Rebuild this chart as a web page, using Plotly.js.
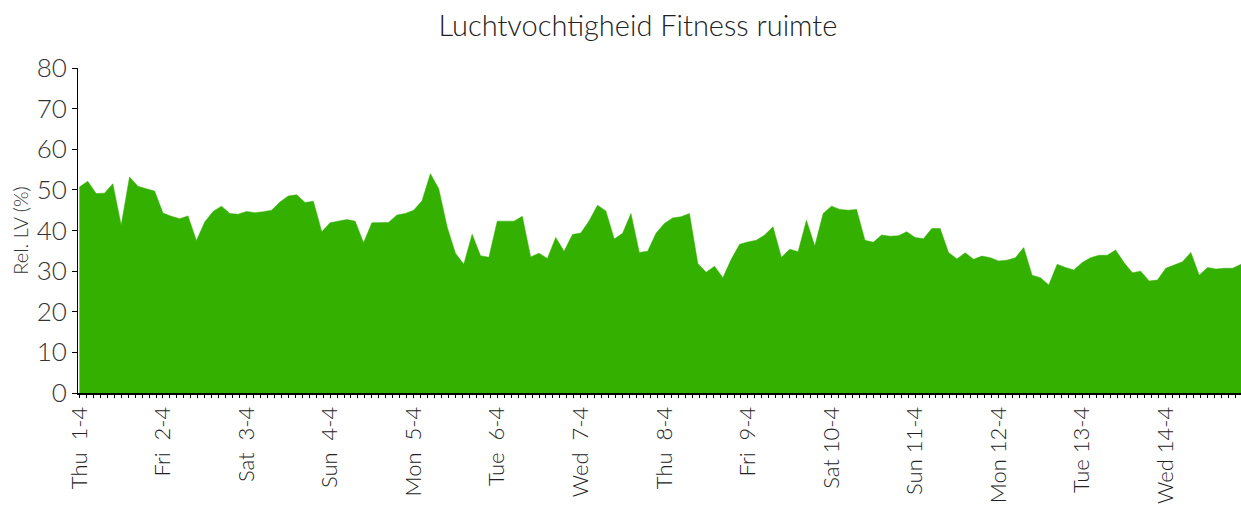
<!DOCTYPE html>
<html>
<head>
<meta charset="utf-8">
<script src="https://cdn.plot.ly/plotly-3.0.1.min.js"></script>
<style>html,body{margin:0;padding:0;background:#fff}#chart{width:1241px;height:512px}</style>
</head>
<body>
<div id="chart"></div>
<script>
// Relative humidity (%) sampled every 2.4 hours starting Thu 1 April 2021 00:00
const startTime = "2021-04-01T00:00:00";
const stepHours = 2.4;
const humidity = [
  50.7, 52.1, 49.1, 49.2, 51.5, 41.3, 53.2, 50.9, 50.3, 49.7,
  44.3, 43.5, 42.9, 43.6, 37.5, 42.1, 44.7, 46.0, 44.2, 44.0,
  44.7, 44.4, 44.6, 45.0, 47.0, 48.5, 48.8, 46.9, 47.2, 39.7,
  41.9, 42.3, 42.7, 42.3, 37.0, 41.9, 42.0, 42.0, 43.8, 44.2,
  45.0, 47.3, 54.0, 50.3, 40.9, 34.4, 31.7, 39.1, 33.8, 33.4,
  42.3, 42.3, 42.3, 43.5, 33.5, 34.4, 33.1, 38.3, 34.9, 39.0,
  39.4, 42.4, 46.2, 44.8, 37.9, 39.3, 44.2, 34.6, 34.9, 39.3,
  41.7, 43.1, 43.4, 44.2, 31.9, 29.7, 31.2, 28.4, 32.9, 36.6,
  37.2, 37.6, 38.9, 40.9, 33.4, 35.4, 34.8, 42.5, 36.2, 44.2,
  46.0, 45.2, 45.0, 45.2, 37.6, 37.1, 38.9, 38.6, 38.7, 39.7,
  38.3, 38.0, 40.5, 40.5, 34.6, 33.0, 34.5, 32.9, 33.7, 33.3,
  32.5, 32.7, 33.3, 35.8, 29.0, 28.4, 26.6, 31.7, 30.9, 30.3,
  32.1, 33.3, 33.9, 33.9, 35.2, 32.1, 29.6, 30.0, 27.6, 27.8,
  30.7, 31.5, 32.3, 34.6, 29.0, 30.9, 30.5, 30.7, 30.7, 31.7
];
const dayTickDates = ["2021-04-01","2021-04-02","2021-04-03","2021-04-04","2021-04-05","2021-04-06","2021-04-07",
                      "2021-04-08","2021-04-09","2021-04-10","2021-04-11","2021-04-12","2021-04-13","2021-04-14"];
const dayTickLabels = ["Thu\u00a0\u00a01-4","Fri\u00a0\u00a02-4","Sat\u00a0\u00a03-4","Sun\u00a0\u00a04-4","Mon\u00a0\u00a05-4",
                       "Tue\u00a0\u00a06-4","Wed\u00a0\u00a07-4","Thu\u00a0\u00a08-4","Fri\u00a0\u00a09-4","Sat\u00a010-4",
                       "Sun\u00a011-4","Mon\u00a012-4","Tue\u00a013-4","Wed\u00a014-4"];

const t0 = new Date(startTime + "Z").getTime();
function fmt(ms){ return new Date(ms).toISOString().slice(0,19).replace("T"," "); }
const times = humidity.map((_, i) => fmt(t0 + i * stepHours * 3600000));

const font = "Lato, 'Open Sans', sans-serif";
const trace = {
  x: times, y: humidity, type: "scatter", mode: "lines",
  fill: "tozeroy", fillcolor: "#33b000",
  line: {color: "#33b000", width: 0.5, shape: "linear"},
  hoverinfo: "x+y"
};
const layout = {
  width: 1241, height: 512,
  margin: {l: 78, r: 0, t: 68, b: 119, pad: 0},
  paper_bgcolor: "#fff", plot_bgcolor: "#fff",
  showlegend: false,
  title: {text: "Luchtvochtigheid Fitness ruimte", x: 0.514, xref: "container", xanchor: "center",
          y: 0.95, yref: "container", yanchor: "middle",
          font: {family: font, size: 29, weight: 300, color: "#222"}},
  xaxis: {
    type: "date",
    range: [fmt(t0 - 0.4*3600000), times[times.length - 1]],
    tickmode: "array", tickvals: dayTickDates, ticktext: dayTickLabels,
    tickangle: -90, ticks: "outside", ticklen: 3, tickcolor: "#000", tickwidth: 1,
    minor: {dtick: 2*3600000, ticks: "outside", ticklen: 3, tickcolor: "#000", tickwidth: 1, showgrid: false},
    showline: true, linecolor: "#000", linewidth: 2,
    showgrid: false, zeroline: false,
    tickfont: {family: font, size: 22, weight: 300, color: "#222"}
  },
  yaxis: {
    range: [0, 80], dtick: 10, tick0: 0,
    ticks: "outside", ticklen: 5, tickcolor: "#000", tickwidth: 1,
    showline: true, linecolor: "#000", linewidth: 1,
    showgrid: false, zeroline: false,
    tickfont: {family: font, size: 26, weight: 300, color: "#333"},
    title: {text: "Rel. LV (%)", standoff: 2, font: {family: font, size: 20, weight: 300, color: "#333"}}
  }
};
Plotly.newPlot("chart", [trace], layout, {displayModeBar: false, staticPlot: true});
</script>
</body>
</html>
